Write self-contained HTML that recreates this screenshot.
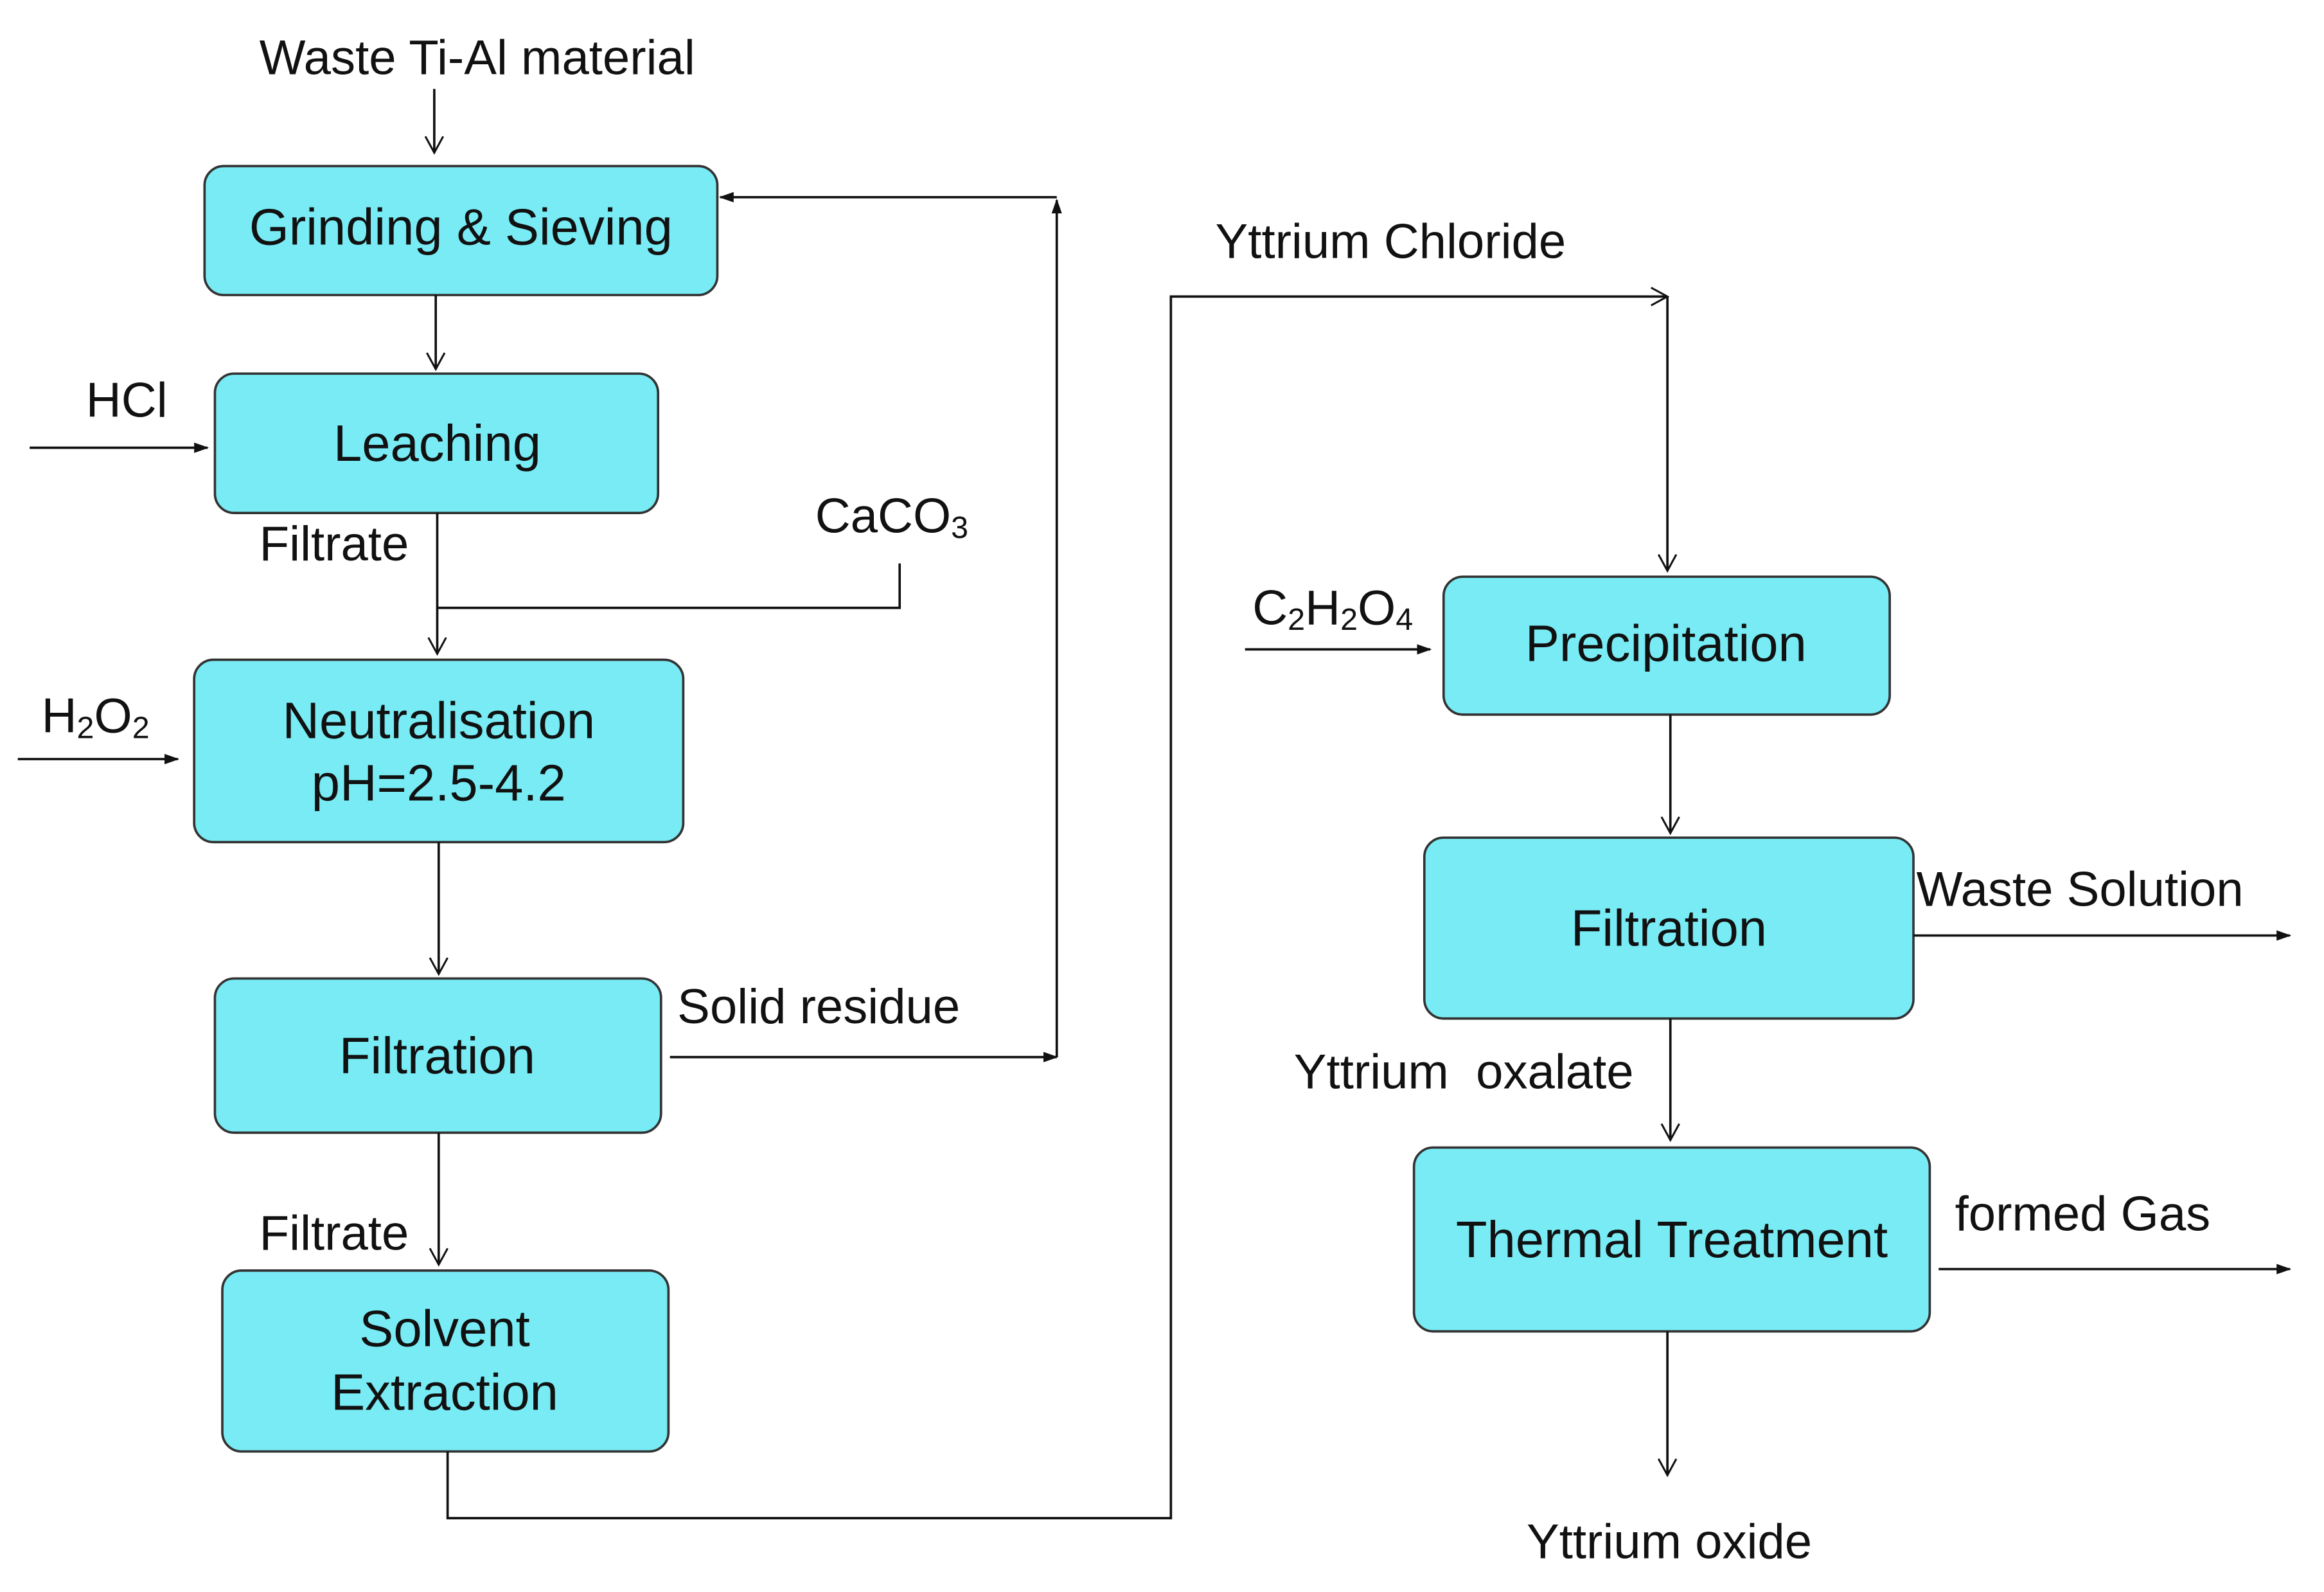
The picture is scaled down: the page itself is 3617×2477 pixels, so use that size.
<!DOCTYPE html>
<html><head><meta charset="utf-8"><style>
html,body{margin:0;padding:0;background:#fff;}
svg{display:block;}
text{font-family:"Liberation Sans",Arial,sans-serif;fill:#111;}
</style></head><body>
<svg width="3617" height="2477" viewBox="0 0 1568 1073.8" preserveAspectRatio="none" xmlns="http://www.w3.org/2000/svg">
<defs>
<marker id="f" markerWidth="10" markerHeight="10" refX="9" refY="5" orient="auto" markerUnits="userSpaceOnUse">
<path d="M0,1.5 L10,5 L0,8.5 Z" fill="#111"/></marker>
<marker id="o" markerWidth="14" markerHeight="14" refX="12" refY="7" orient="auto" markerUnits="userSpaceOnUse">
<path d="M1,1 L12,7 L1,13" fill="none" stroke="#111" stroke-width="1.3"/></marker>
</defs>
<g fill="#78ebf4" stroke="#333" stroke-width="1.6">
<rect x="138" y="112" width="346" height="87" rx="13"/>
<rect x="145" y="252" width="299" height="94" rx="13"/>
<rect x="131" y="445" width="330" height="123" rx="13"/>
<rect x="145" y="660" width="301" height="104" rx="13"/>
<rect x="150" y="857" width="301" height="122" rx="13"/>
<rect x="974" y="389" width="301" height="93" rx="13"/>
<rect x="961" y="565" width="330" height="122" rx="13"/>
<rect x="954" y="774" width="348" height="124" rx="13"/>
</g>
<g stroke="#111" stroke-width="1.6" fill="none">
<line x1="293" y1="60" x2="293" y2="103" marker-end="url(#o)"/>
<line x1="294" y1="199" x2="294" y2="249" marker-end="url(#o)"/>
<line x1="20" y1="302" x2="140" y2="302" marker-end="url(#f)"/>
<line x1="295" y1="346" x2="295" y2="441" marker-end="url(#o)"/>
<polyline points="607,380 607,410 295,410"/>
<line x1="12" y1="512" x2="120" y2="512" marker-end="url(#f)"/>
<line x1="296" y1="568" x2="296" y2="657" marker-end="url(#o)"/>
<line x1="296" y1="764" x2="296" y2="853" marker-end="url(#o)"/>
<line x1="452" y1="713" x2="713" y2="713" marker-end="url(#f)"/>
<line x1="713" y1="713" x2="713" y2="135" marker-end="url(#f)"/>
<line x1="713" y1="133" x2="486" y2="133" marker-end="url(#f)"/>
<polyline points="302,979 302,1024 790,1024 790,200 1125,200" marker-end="url(#o)"/>
<line x1="1125" y1="200" x2="1125" y2="385" marker-end="url(#o)"/>
<line x1="840" y1="438" x2="965" y2="438" marker-end="url(#f)"/>
<line x1="1127" y1="482" x2="1127" y2="562" marker-end="url(#o)"/>
<line x1="1291" y1="631" x2="1545" y2="631" marker-end="url(#f)"/>
<line x1="1127" y1="687" x2="1127" y2="769" marker-end="url(#o)"/>
<line x1="1308" y1="856" x2="1545" y2="856" marker-end="url(#f)"/>
<line x1="1125" y1="898" x2="1125" y2="995" marker-end="url(#o)"/>
</g>
<g font-size="33" dominant-baseline="central">
<text x="175" y="39">Waste Ti-Al material</text>
<text x="311" y="153" text-anchor="middle" font-size="34.5">Grinding &amp; Sieving</text>
<text x="58" y="270">HCl</text>
<text x="295" y="299" text-anchor="middle" font-size="34.5">Leaching</text>
<text x="175" y="367">Filtrate</text>
<text x="550" y="348">CaCO<tspan font-size="21" dy="8">3</tspan></text>
<text x="28" y="483">H<tspan font-size="21" dy="8">2</tspan><tspan dy="-8">O</tspan><tspan font-size="21" dy="8">2</tspan></text>
<text x="296" y="486" text-anchor="middle" font-size="34.5">Neutralisation</text>
<text x="296" y="528" text-anchor="middle" font-size="34.5">pH=2.5-4.2</text>
<text x="295" y="712" text-anchor="middle" font-size="34.5">Filtration</text>
<text x="457" y="679">Solid residue</text>
<text x="175" y="832">Filtrate</text>
<text x="300" y="896" text-anchor="middle" font-size="34.5">Solvent</text>
<text x="300" y="939" text-anchor="middle" font-size="34.5">Extraction</text>
<text x="820" y="163">Yttrium Chloride</text>
<text x="845" y="410">C<tspan font-size="21" dy="8">2</tspan><tspan dy="-8">H</tspan><tspan font-size="21" dy="8">2</tspan><tspan dy="-8">O</tspan><tspan font-size="21" dy="8">4</tspan></text>
<text x="1124" y="434" text-anchor="middle" font-size="34.5">Precipitation</text>
<text x="1126" y="626" text-anchor="middle" font-size="34.5">Filtration</text>
<text x="1293" y="600">Waste Solution</text>
<text x="873" y="723" xml:space="preserve">Yttrium  oxalate</text>
<text x="1128" y="836" text-anchor="middle" font-size="34.5">Thermal Treatment</text>
<text x="1319" y="819">formed Gas</text>
<text x="1030" y="1040">Yttrium oxide</text>
</g>
</svg>
</body></html>
